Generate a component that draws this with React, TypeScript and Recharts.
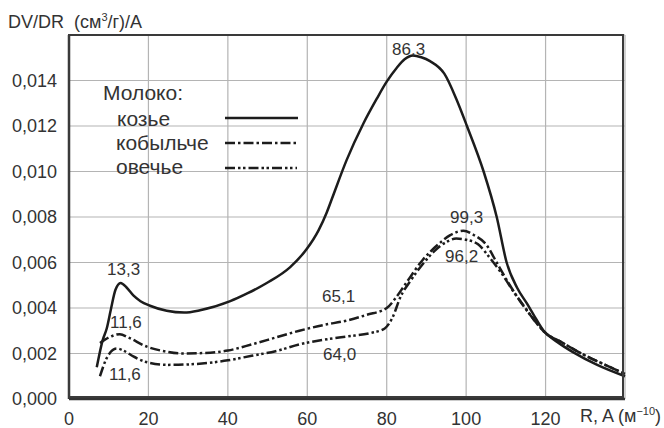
import { LineChart, Line, XAxis, YAxis, CartesianGrid } from "recharts";

// R, A  /  DV/DR values
const goatR = [7, 8.5, 9.5, 10.5, 11.7, 13, 14.5, 16.2, 18, 20.4, 24.6, 29, 33, 40.6, 45, 49.8, 55.7, 59.9, 62.8, 64.9, 66.2, 69.9, 74.1, 77.5, 80, 82.5, 84.5, 86.6, 88.7, 90.9, 94.5, 97.5, 100.2, 104.4, 107.7, 110.2, 112.8, 115.3, 117, 119.5, 123, 127, 133, 140];
const goatV = [0.0014, 0.0026, 0.0031, 0.0039, 0.0048, 0.0051, 0.0049, 0.00455, 0.0043, 0.0041, 0.00388, 0.0038, 0.0039, 0.0043, 0.00465, 0.0051, 0.0058, 0.0066, 0.0074, 0.0082, 0.0088, 0.0105, 0.0121, 0.0132, 0.01395, 0.01455, 0.01493, 0.0151, 0.01502, 0.01485, 0.0143, 0.0132, 0.012, 0.01, 0.008, 0.006, 0.0049, 0.0042, 0.0037, 0.003, 0.0025, 0.00205, 0.0015, 0.001];

const mareR = [7.8, 10, 12.8, 15, 19.6, 24, 28.5, 34, 40, 46, 52, 58, 64, 70, 75, 80, 82.5, 84.5, 89, 93, 96, 99.3, 102, 105, 108, 111, 114, 117, 120, 124, 129, 135, 140];
const mareV = [0.00246, 0.0027, 0.00285, 0.0027, 0.0023, 0.0021, 0.002, 0.00202, 0.00213, 0.0024, 0.0027, 0.003, 0.00325, 0.00345, 0.0037, 0.004, 0.0045, 0.005, 0.0061, 0.0068, 0.0072, 0.0074, 0.0072, 0.0068, 0.0059, 0.005, 0.0042, 0.0035, 0.0029, 0.0025, 0.002, 0.0015, 0.0011];

const eweR = [7.8, 9.5, 12, 14, 16.2, 20, 25, 30, 40, 46, 52, 58, 64, 70, 76, 79.5, 81.5, 83.5, 86, 88.5, 92, 95, 97.5, 100, 103, 106, 109, 112, 114.5, 117, 120, 124, 129, 135, 140];
const eweV = [0.001, 0.0018, 0.00222, 0.0021, 0.00187, 0.0016, 0.0015, 0.00152, 0.0017, 0.0019, 0.0021, 0.0024, 0.0026, 0.00275, 0.0029, 0.0031, 0.0036, 0.0045, 0.0052, 0.0058, 0.0065, 0.0069, 0.00705, 0.007, 0.0068, 0.0062, 0.0055, 0.0047, 0.0041, 0.0035, 0.0029, 0.0025, 0.002, 0.0015, 0.0011];

const xTicks = [0, 20, 40, 60, 80, 100, 120];
const yTicks = [0, 0.002, 0.004, 0.006, 0.008, 0.01, 0.012, 0.014, 0.016];

const peakLabels = [
  { text: "13,3", x: 107, y: 275 },
  { text: "11,6", x: 110, y: 328 },
  { text: "11,6", x: 109, y: 380 },
  { text: "86,3", x: 392, y: 55 },
  { text: "65,1", x: 322, y: 302 },
  { text: "64,0", x: 323, y: 360 },
  { text: "99,3", x: 450, y: 223 },
  { text: "96,2", x: 445, y: 262 },
];

const toPoints = (r: number[], v: number[]) => r.map((x, i) => ({ x, y: v[i] }));
const goat = toPoints(goatR, goatV);
const mare = toPoints(mareR, mareV);
const ewe = toPoints(eweR, eweV);

const FONT = "'Liberation Sans', Arial, sans-serif";
const INK = "#1c1c1c";
const TXT = "#333";
const MARE_DASH = "10 3 2.5 3";
const EWE_DASH = "10 3 2.5 2.5 2.5 3";

export default function App() {
  return (
    <div style={{ position: "absolute", left: 0, top: 0, width: 664, height: 428, background: "#fff", fontFamily: FONT }}>
      <LineChart width={664} height={428} margin={{ top: 35, right: 39, left: 0, bottom: 0 }}>
        <CartesianGrid stroke="#b4b4b4" strokeWidth={1.2} />
        <XAxis
          type="number"
          dataKey="x"
          domain={[0, 140]}
          ticks={xTicks}
          height={29}
          tickLine={false}
          tickSize={0}
          tickMargin={13}
          axisLine={{ stroke: "#333", strokeWidth: 2.5 }}
          tick={{ fill: TXT, fontSize: 18, fontFamily: FONT }}
        />
        <YAxis
          type="number"
          domain={[0, 0.016]}
          ticks={yTicks}
          width={69}
          tickLine={false}
          tickSize={0}
          tickMargin={12}
          axisLine={{ stroke: "#333", strokeWidth: 2.5 }}
          tick={{ fill: TXT, fontSize: 18, fontFamily: FONT }}
          tickFormatter={(v: number) => (v >= 0.016 ? "" : v.toFixed(3).replace(".", ","))}
        />
        <Line data={goat} dataKey="y" type="monotone" stroke={INK} strokeWidth={2.5} dot={false} isAnimationActive={false} />
        <Line data={mare} dataKey="y" type="monotone" stroke={INK} strokeWidth={2.5} strokeDasharray={MARE_DASH} dot={false} isAnimationActive={false} />
        <Line data={ewe} dataKey="y" type="monotone" stroke={INK} strokeWidth={2.5} strokeDasharray={EWE_DASH} dot={false} isAnimationActive={false} />
      </LineChart>

      <div style={{ position: "absolute", left: 69, top: 35, width: 556, height: 364, border: "2px solid #3a3a3a", boxSizing: "border-box", marginLeft: -1, marginTop: -1, pointerEvents: "none" }} />

      <svg width={664} height={428} style={{ position: "absolute", left: 0, top: 0, pointerEvents: "none" }}>
        <text x={8} y={28} fontSize={18} fill={TXT} fontFamily={FONT}>
          DV/DR{"\u00a0\u00a0"}(см<tspan fontSize={11} dy={-7}>3</tspan><tspan dy={7}>/г)/А</tspan>
        </text>
        <text x={580} y={422} fontSize={18} fill={TXT} fontFamily={FONT}>
          R, A (м<tspan fontSize={11} dy={-7}>−10</tspan><tspan dy={7}>)</tspan>
        </text>

        <text x={103} y={100} fontSize={21} fill={TXT} fontFamily={FONT}>Молоко:</text>
        <text x={117} y={126} fontSize={21} fill={TXT} fontFamily={FONT}>козье</text>
        <text x={116} y={150} fontSize={21} fill={TXT} fontFamily={FONT}>кобыльче</text>
        <text x={116} y={174} fontSize={21} fill={TXT} fontFamily={FONT}>овечье</text>
        <line x1={225} x2={298} y1={118} y2={118} stroke={INK} strokeWidth={2.5} />
        <line x1={225} x2={298} y1={143} y2={143} stroke={INK} strokeWidth={2.5} strokeDasharray={MARE_DASH} />
        <line x1={225} x2={297} y1={168} y2={168} stroke={INK} strokeWidth={2.5} strokeDasharray={EWE_DASH} />

        {peakLabels.map((p, i) => (
          <text key={i} x={p.x} y={p.y} fontSize={17} fill={TXT} fontFamily={FONT}>{p.text}</text>
        ))}
      </svg>
    </div>
  );
}
